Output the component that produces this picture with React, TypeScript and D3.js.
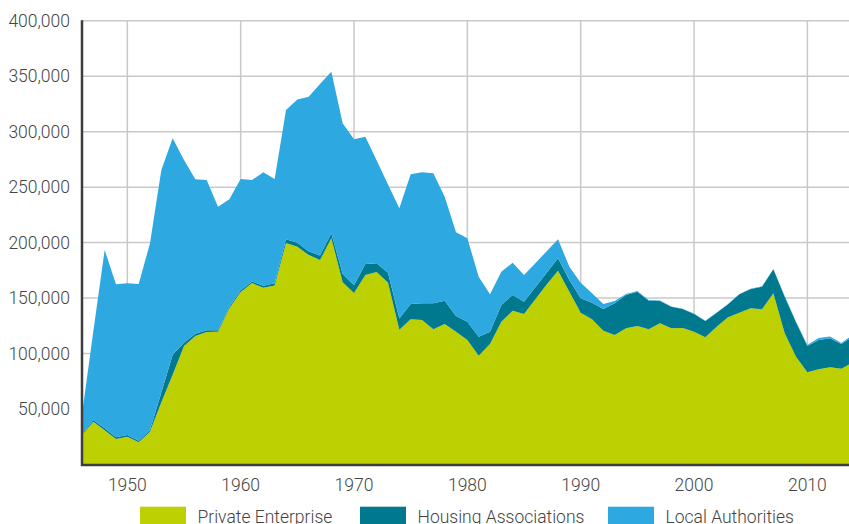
import React from "react";
import * as d3 from "d3";

// completions per year, in thousands
const years = d3.range(1946, 2015);

const privateEnterprise = [
  26.6, 38.6, 30.8, 23.0, 25.1, 20.0, 29.6, 56.0, 81.0, 106.8,
  115.8, 119.4, 119.7, 140.8, 155.5, 163.5, 159.3, 161.3, 199.6, 196.3,
  188.8, 184.3, 203.9, 164.3, 154.6, 170.8, 173.5, 163.9, 121.5, 130.9,
  130.3, 121.9, 126.6, 119.7, 112.2, 98.1, 108.6, 128.7, 138.6, 135.7,
  148.9, 162.2, 174.7, 155.8, 136.8, 130.9, 120.6, 116.7, 122.8, 124.8,
  121.9, 127.3, 122.8, 123.0, 119.7, 114.7, 124.2, 132.7, 136.8, 140.8,
  139.9, 154.3, 118.3, 97.2, 83.1, 85.8, 87.6, 86.4, 92.0,
];

const housingAssociations = [
  1.0, 1.5, 1.8, 1.5, 1.4, 1.3, 1.5, 9.0, 18.0, 3.0,
  2.0, 1.5, 1.3, 1.3, 1.5, 1.5, 1.8, 2.0, 3.5, 3.5,
  3.5, 4.0, 4.5, 7.5, 7.0, 10.0, 8.0, 9.0, 10.0, 13.8,
  15.0, 23.4, 21.1, 14.2, 16.5, 17.1, 11.1, 15.1, 14.2, 11.1,
  10.9, 10.7, 11.2, 10.5, 13.0, 14.9, 19.6, 28.6, 30.0, 31.0,
  25.8, 20.1, 19.4, 17.2, 16.0, 14.7, 12.6, 11.7, 16.6, 17.4,
  20.4, 21.7, 33.0, 31.0, 23.7, 26.4, 26.1, 22.2, 23.2,
];

const localAuthorities = [
  17.4, 79.9, 160.7, 137.9, 136.8, 141.4, 168.3, 200.5, 195.0, 164.6,
  139.3, 135.5, 111.4, 96.9, 100.3, 91.4, 102.3, 94.0, 116.4, 129.2,
  139.2, 154.7, 145.7, 135.8, 131.5, 114.7, 92.5, 79.5, 99.4, 116.9,
  118.1, 117.2, 93.7, 75.4, 75.2, 54.1, 33.7, 30.0, 29.1, 24.0,
  21.7, 19.4, 17.1, 12.0, 14.1, 8.5, 4.5, 2.1, 0.8, 0.6,
  0.5, 0.4, 0.3, 0.2, 0.3, 0.2, 0.3, 0.2, 0.2, 0.3,
  0.3, 0.3, 0.5, 0.5, 1.0, 1.8, 1.6, 1.0, 1.5,
];

const seriesKeys = ["private", "ha", "la"];
const seriesLabels = ["Private Enterprise", "Housing Associations", "Local Authorities"];
const seriesColors = ["#bdd002", "#00798f", "#2ea8e0"];

const yTicks = [50000, 100000, 150000, 200000, 250000, 300000, 350000, 400000];
const xTicks = [1950, 1960, 1970, 1980, 1990, 2000, 2010];

const W = 849;
const H = 524;
const FONT = "Roboto, 'Noto Sans', sans-serif";
const FS = 17.5;

export default function App() {
  const table = years.map((year, i) => ({
    year,
    private: privateEnterprise[i] * 1000,
    ha: housingAssociations[i] * 1000,
    la: localAuthorities[i] * 1000,
  }));

  const x = d3.scaleLinear().domain([1946, 2014]).range([82, 852.7]);
  const y = d3.scaleLinear().domain([0, 400000]).range([464.5, 20.7]);

  const stacked = d3.stack<any>().keys(seriesKeys)(table);
  const area = d3
    .area<any>()
    .x((d) => x(d.data.year))
    .y0((d) => y(d[0]))
    .y1((d) => y(d[1]))
    .curve(d3.curveLinear);

  const fmt = d3.format(",");
  const legendX = [140, 360, 608];

  return (
    <div style={{ position: "fixed", left: 0, top: 0 }}>
      <svg width={W} height={H} style={{ display: "block", background: "#fff" }}>
        {/* grid */}
        {yTicks.map((t) => (
          <line key={`gy${t}`} x1={82} x2={W} y1={y(t)} y2={y(t)} stroke="#c9c9c9" strokeWidth={1.5} />
        ))}
        {xTicks.map((t) => (
          <line key={`gx${t}`} x1={x(t)} x2={x(t)} y1={y(400000)} y2={y(0)} stroke="#c9c9c9" strokeWidth={1.5} />
        ))}

        {/* stacked areas */}
        {stacked.map((s, i) => (
          <path key={s.key} d={area(s) || ""} fill={seriesColors[i]} />
        ))}

        {/* axes */}
        <line x1={82} x2={82} y1={y(400000) - 0.5} y2={y(0) + 1.5} stroke="#3d3d3d" strokeWidth={2.5} />
        <line x1={81} x2={W} y1={y(0) + 0.5} y2={y(0) + 0.5} stroke="#3d3d3d" strokeWidth={2.5} />

        {/* y labels */}
        {yTicks.map((t) => (
          <text
            key={`ly${t}`}
            x={70}
            y={y(t)}
            dy="0.36em"
            textAnchor="end"
            fontFamily={FONT}
            fontWeight={300}
            fontSize={FS}
            fill="#444"
          >
            {fmt(t)}
          </text>
        ))}

        {/* x labels */}
        {xTicks.map((t) => (
          <text
            key={`lx${t}`}
            x={x(t)}
            y={490.5}
            textAnchor="middle"
            fontFamily={FONT}
            fontWeight={300}
            fontSize={FS}
            fill="#444"
          >
            {t}
          </text>
        ))}

        {/* legend */}
        {seriesLabels.map((label, i) => (
          <g key={label}>
            <rect x={legendX[i]} y={506.7} width={46} height={20} fill={seriesColors[i]} />
            <text
              x={legendX[i] + 57.5}
              y={522.5}
              fontFamily={FONT}
              fontWeight={300}
              fontSize={FS}
              fill="#444"
            >
              {label}
            </text>
          </g>
        ))}
      </svg>
    </div>
  );
}
